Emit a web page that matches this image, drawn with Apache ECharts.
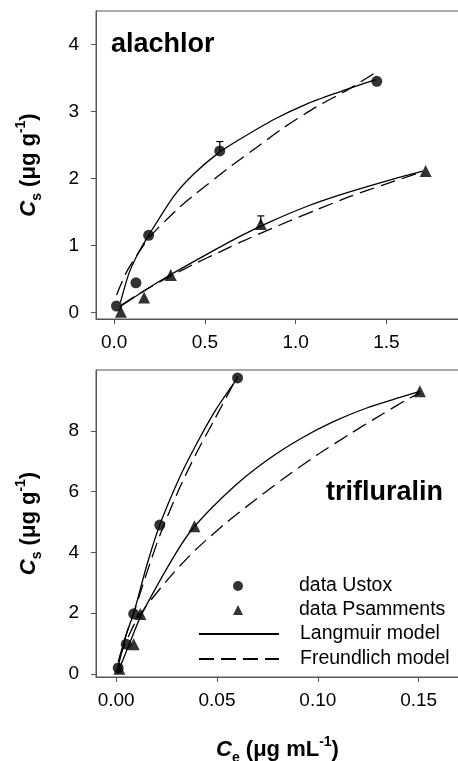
<!DOCTYPE html>
<html><head><meta charset="utf-8">
<script src="https://cdn.jsdelivr.net/npm/echarts@6/dist/echarts.min.js"></script>
<style>html,body{margin:0;padding:0;background:#fff}#c{width:458px;height:761px}</style>
</head><body><div id="c"></div>
<script>
// ---------- alachlor (top panel) ----------
const alaUstoxX = [0.013, 0.12, 0.19, 0.582, 1.447];
const alaUstoxY = [0.094, 0.44, 1.15, 2.41, 3.45];
const alaPsamX = [0.037, 0.165, 0.312, 0.808, 1.716];
const alaPsamY = [0.01, 0.22, 0.557, 1.32, 2.11];
const alaErrX = [0.582, 0.808];
const alaErrLow = [2.41, 1.32];
const alaErrHigh = [2.55, 1.44];
const alaLangUX = [0.035, 0.08, 0.13, 0.19, 0.33, 0.44, 0.57, 0.69, 0.88, 1.06, 1.24, 1.37, 1.44];
const alaLangUY = [0.15, 0.57, 0.87, 1.15, 1.74, 2.07, 2.37, 2.58, 2.88, 3.11, 3.29, 3.41, 3.47];
const alaFreuUX = [0.013, 0.068, 0.132, 0.197, 0.352, 0.444, 0.647, 0.784, 0.93, 1.115, 1.298, 1.445];
const alaFreuUY = [0.26, 0.6, 0.88, 1.13, 1.55, 1.76, 2.19, 2.46, 2.75, 3.07, 3.34, 3.59];
const alaLangPX = [0.03, 0.17, 0.31, 0.5, 0.69, 0.85, 1.06, 1.24, 1.46, 1.7];
const alaLangPY = [0.08, 0.33, 0.56, 0.85, 1.13, 1.34, 1.58, 1.75, 1.93, 2.11];
const alaFreuPX = [0.04, 0.17, 0.31, 0.44, 0.58, 0.69, 0.91, 1.115, 1.3, 1.48, 1.7];
const alaFreuPY = [0.11, 0.33, 0.54, 0.72, 0.9, 1.04, 1.3, 1.53, 1.73, 1.9, 2.1];
const alaXTicks = [0, 0.5, 1.0, 1.5];
const alaYTicks = [0, 1, 2, 3, 4];

// ---------- trifluralin (bottom panel) ----------
const triUstoxX = [0.001, 0.005, 0.0087, 0.0216, 0.0602];
const triUstoxY = [0.2, 0.98, 1.98, 4.9, 9.74];
const triPsamX = [0.0016, 0.0087, 0.012, 0.0388, 0.1506];
const triPsamY = [0.17, 0.98, 1.97, 4.86, 9.3];
const triLangUX = [0.001, 0.005, 0.0087, 0.0153, 0.0216, 0.031, 0.0393, 0.049, 0.0602];
const triLangUY = [0.25, 1.3, 2.0, 3.6, 4.9, 6.4, 7.5, 8.65, 9.74];
const triFreuUX = [0.001, 0.005, 0.0087, 0.0153, 0.0216, 0.031, 0.0393, 0.049, 0.0602];
const triFreuUY = [0.4, 1.3, 2.0, 3.35, 4.55, 6.05, 7.2, 8.4, 9.8];
const triLangPX = [0.0016, 0.0087, 0.0129, 0.0294, 0.0388, 0.0582, 0.0748, 0.0912, 0.1077, 0.1242, 0.1407, 0.1506];
const triLangPY = [0.17, 1.35, 2.0, 3.95, 4.85, 6.15, 7.03, 7.73, 8.3, 8.75, 9.1, 9.3];
const triFreuPX = [0.0016, 0.0087, 0.0145, 0.0277, 0.0393, 0.055, 0.0665, 0.083, 0.0995, 0.116, 0.1325, 0.144, 0.1506];
const triFreuPY = [0.55, 1.6, 2.2, 3.27, 4.08, 5.0, 5.6, 6.43, 7.2, 7.9, 8.57, 9.02, 9.25];
const triXTicks = [0, 0.05, 0.10, 0.15];
const triYTicks = [0, 2, 4, 6, 8];

const pointNames = ['data Ustox', 'data Psamments'];
const modelNames = ['Langmuir model', 'Freundlich model'];

const FONT = "'Liberation Sans', Arial, sans-serif";
const AX = '#555';
const zip = (xs, ys) => xs.map((x, i) => [x, ys[i]]);

function nameStyle() {
  return {
    fontFamily: FONT, fontWeight: 'bold', fontSize: 22, color: '#000',
    rich: {
      i: { fontFamily: FONT, fontStyle: 'italic', fontWeight: 'bold', fontSize: 22, lineHeight: 30, color: '#000' },
      n: { fontFamily: FONT, fontWeight: 'bold', fontSize: 22, lineHeight: 30, color: '#000' },
      sub: { fontFamily: FONT, fontWeight: 'bold', fontSize: 14, lineHeight: 12, verticalAlign: 'bottom', color: '#000' },
      sup: { fontFamily: FONT, fontWeight: 'bold', fontSize: 14, lineHeight: 12, verticalAlign: 'top', color: '#000' }
    }
  };
}
function xAxisCfg(gi, min, max, ticks, dec, withName) {
  const a = {
    type: 'value', gridIndex: gi, min: min, max: max,
    splitLine: { show: false },
    axisLine: { show: true, onZero: false, lineStyle: { color: AX, width: 1 } },
    axisTick: { show: true, length: 5, customValues: ticks, lineStyle: { color: AX } },
    axisLabel: { customValues: ticks, margin: 14, fontSize: 19, fontFamily: FONT, color: '#000',
      formatter: v => Number(v).toFixed(dec) }
  };
  if (withName) {
    a.name = '{i|C}{sub|e}{n| (μg mL}{sup|-1}{n|)}';
    a.nameLocation = 'middle';
    a.nameGap = 58;
    a.nameTextStyle = nameStyle();
  }
  return a;
}
function yAxisCfg(gi, min, max, ticks) {
  return {
    type: 'value', gridIndex: gi, min: min, max: max,
    splitLine: { show: false },
    axisLine: { show: true, onZero: false, lineStyle: { color: AX, width: 1 } },
    axisTick: { show: true, length: 5, customValues: ticks, lineStyle: { color: AX } },
    axisLabel: { customValues: ticks, margin: 17, fontSize: 19, fontFamily: FONT, color: '#000',
      formatter: v => String(v) },
    name: '{i|C}{sub|s}{n| (μg g}{sup|-1}{n|)}',
    nameLocation: 'middle', nameRotate: 90, nameGap: 52,
    nameTextStyle: nameStyle()
  };
}

function curve(name, gi, xs, ys, dashed) {
  return {
    type: 'line', name: name, xAxisIndex: gi, yAxisIndex: gi,
    data: zip(xs, ys), smooth: 0.25, symbol: 'none', showSymbol: false,
    lineStyle: { color: '#000', width: 1.3, type: dashed ? [15, 7] : 'solid' },
    itemStyle: { color: 'rgba(0,0,0,0)' }, z: 2, silent: true
  };
}
function points(name, gi, xs, ys, sym, size) {
  return {
    type: 'scatter', name: name, xAxisIndex: gi, yAxisIndex: gi,
    data: zip(xs, ys), symbol: sym, symbolSize: size,
    itemStyle: { color: '#000' }, z: 4
  };
}
function errBars(gi, xs, lo, hi) {
  return {
    type: 'custom', xAxisIndex: gi, yAxisIndex: gi, silent: true, z: 3,
    data: xs.map((x, i) => [x, lo[i], hi[i]]),
    renderItem: function (params, api) {
      const x = api.value(0);
      const p1 = api.coord([x, api.value(1)]);
      const p2 = api.coord([x, api.value(2)]);
      const w = 3.5;
      return { type: 'group', children: [
        { type: 'line', shape: { x1: p1[0], y1: p1[1], x2: p2[0], y2: p2[1] }, style: { stroke: '#000', lineWidth: 1.2 } },
        { type: 'line', shape: { x1: p2[0] - w, y1: p2[1], x2: p2[0] + w, y2: p2[1] }, style: { stroke: '#000', lineWidth: 1.2 } }
      ] };
    }
  };
}

const chart = echarts.init(document.getElementById('c'), null, { renderer: 'canvas' });
chart.setOption({
  animation: false,
  backgroundColor: '#fff',
  grid: [
    { left: 96, top: 11, width: 363, height: 308, show: true, borderColor: AX, borderWidth: 1, containLabel: false, outerBoundsMode: 'none' },
    { left: 96, top: 370, width: 363, height: 307, show: true, borderColor: AX, borderWidth: 1, containLabel: false, outerBoundsMode: 'none' }
  ],
  xAxis: [
    xAxisCfg(0, -0.1, 1.9, alaXTicks, 1, false),
    xAxisCfg(1, -0.01, 0.17, triXTicks, 2, true)
  ],
  yAxis: [
    yAxisCfg(0, -0.1, 4.5, alaYTicks),
    yAxisCfg(1, -0.1, 10, triYTicks)
  ],
  legend: [
    {
      data: pointNames,
      orient: 'vertical', left: 228, top: 571,
      itemWidth: 10, itemHeight: 10, itemGap: 4, symbolKeepAspect: true,
      selectedMode: false,
      textStyle: { fontSize: 19.5, fontFamily: FONT, color: '#000', padding: [0, 0, 0, 51] }
    },
    {
      data: modelNames.map(n => ({ name: n, itemStyle: { opacity: 0 } })),
      orient: 'vertical', left: 193, top: 619,
      itemWidth: 80, itemHeight: 10, itemGap: 5,
      selectedMode: false,
      textStyle: { fontSize: 19.5, fontFamily: FONT, color: '#000', padding: [0, 0, 0, 16] }
    }
  ],
  graphic: [
    { type: 'text', left: 111, top: 31, style: { text: 'alachlor', font: "bold 27px 'Liberation Sans', Arial, sans-serif", fill: '#000' } },
    { type: 'text', left: 326, top: 479, style: { text: 'trifluralin', font: "bold 27px 'Liberation Sans', Arial, sans-serif", fill: '#000' } }
  ],
  series: [
    curve('Langmuir model', 0, alaLangUX, alaLangUY, false),
    curve('Freundlich model', 0, alaFreuUX, alaFreuUY, true),
    curve('Langmuir model', 0, alaLangPX, alaLangPY, false),
    curve('Freundlich model', 0, alaFreuPX, alaFreuPY, true),
    errBars(0, alaErrX, alaErrLow, alaErrHigh),
    points('data Ustox', 0, alaUstoxX, alaUstoxY, 'circle', 11),
    points('data Psamments', 0, alaPsamX, alaPsamY, 'triangle', 12),
    curve('Langmuir model', 1, triLangUX, triLangUY, false),
    curve('Freundlich model', 1, triFreuUX, triFreuUY, true),
    curve('Langmuir model', 1, triLangPX, triLangPY, false),
    curve('Freundlich model', 1, triFreuPX, triFreuPY, true),
    points('data Ustox', 1, triUstoxX, triUstoxY, 'circle', 11),
    points('data Psamments', 1, triPsamX, triPsamY, 'triangle', 12)
  ]
});
</script>
</body></html>
